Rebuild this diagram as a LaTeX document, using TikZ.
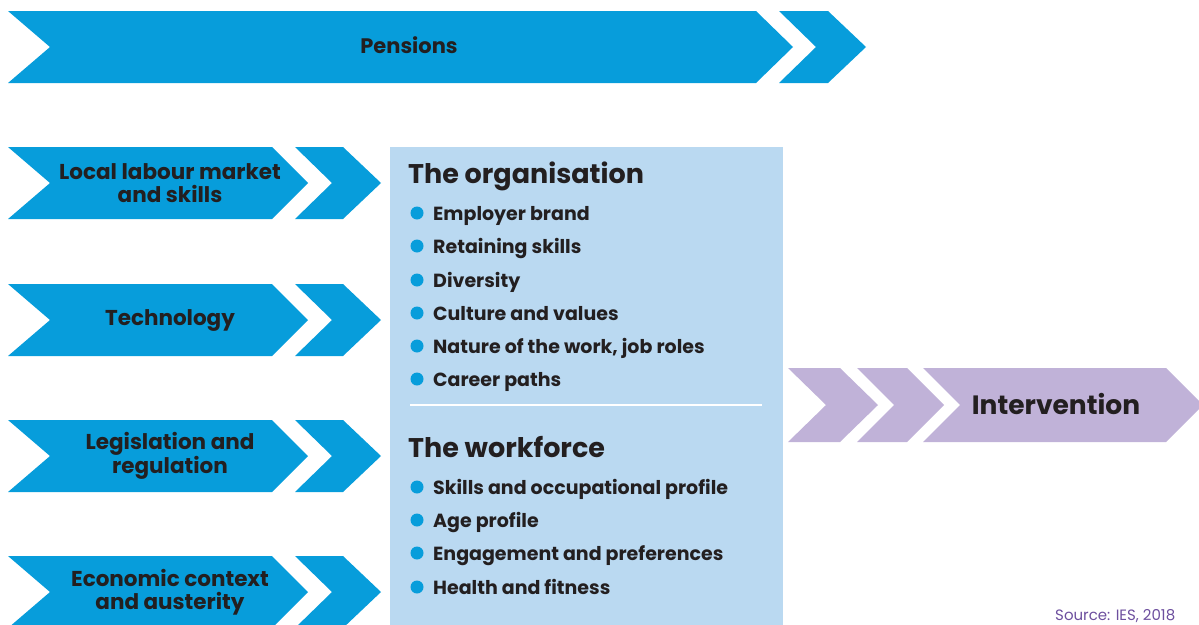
\documentclass[tikz,border=0pt]{standalone}
\usepackage{fontspec}
\setmainfont{Poppins}
\definecolor{ablue}{HTML}{079DDB}
\definecolor{lblue}{HTML}{BAD9F1}
\definecolor{lpurp}{HTML}{C0B2D8}
\definecolor{txt}{HTML}{231F20}
\definecolor{srcp}{HTML}{6D4F9E}
\tikzset{
  lab/.style={text=txt,font=\fontsize{21.5}{23}\selectfont\bfseries,align=center,inner sep=0pt},
  head/.style={text=txt,font=\fontsize{27}{30}\selectfont\bfseries,anchor=base west,inner sep=0pt},
  item/.style={text=txt,font=\fontsize{19}{20}\selectfont\bfseries,anchor=base west,inner sep=0pt},
  dot/.style={circle,fill=ablue,minimum size=13pt,inner sep=0pt},
}
\begin{document}
\begin{tikzpicture}[x=1pt,y=-1pt]
\useasboundingbox (0,0) rectangle (1199,624);
% Pensions arrow
\fill[ablue] (8,11) -- (756,11) -- (793,47) -- (756,83) -- (8,83) -- (50,47) -- cycle;
\fill[ablue] (779,11) -- (828,11) -- (866,47) -- (828,83) -- (779,83) -- (816,47) -- cycle;
\node[lab,font=\fontsize{21}{23}\selectfont\bfseries] (pens) at (409,45) {Pensions};
% left arrows
\foreach \t in {147,284,420,556}{
  \fill[ablue] (8,\t) -- (272,\t) -- (308,\t+36) -- (272,\t+72) -- (8,\t+72) -- (50,\t+36) -- cycle;
  \fill[ablue] (295,\t) -- (343,\t) -- (381,\t+36) -- (343,\t+72) -- (295,\t+72) -- (332,\t+36) -- cycle;
}
\node[lab] (l1) at (170,183.5) {Local labour market\\and skills};
\node[lab] (l2) at (170,320) {Technology};
\node[lab] (l3) at (170,456) {Legislation and\\regulation};
\node[lab] (l4) at (170,592) {Economic context\\and austerity};
% central box
\fill[lblue] (390,147) rectangle (783,630);
\draw[white,line width=2.5pt] (410,405) -- (762,405);
\node[head] (org) at (408,183) {The organisation};
\node[head] (wf) at (408,457) {The workforce};
\foreach \y/\s in {220/Employer brand,253/Retaining skills,287/Diversity,320/Culture and values,353/{Nature of the work, job roles},386/Career paths,494/Skills and occupational profile,527/Age profile,560/Engagement and preferences,594/Health and fitness}{
  \node[dot] at (417,\y-7) {};
  \node[item] at (433,\y) {\s};
}
% Intervention
\fill[lpurp] (788,368) -- (840,368) -- (878,405) -- (840,442) -- (788,442) -- (826,405) -- cycle;
\fill[lpurp] (857,368) -- (907,368) -- (944,405) -- (907,442) -- (857,442) -- (894,405) -- cycle;
\fill[lpurp] (923,368) -- (1166,368) -- (1203,405) -- (1166,442) -- (923,442) -- (960,405) -- cycle;
\node[lab,font=\fontsize{26.5}{30}\selectfont\bfseries] (int) at (1056,404) {Intervention};
\node[text=srcp,font=\fontsize{15}{18}\selectfont,anchor=base west,inner sep=0pt] (src) at (1055,620) {Source: IES, 2018};
\end{tikzpicture}
\end{document}
